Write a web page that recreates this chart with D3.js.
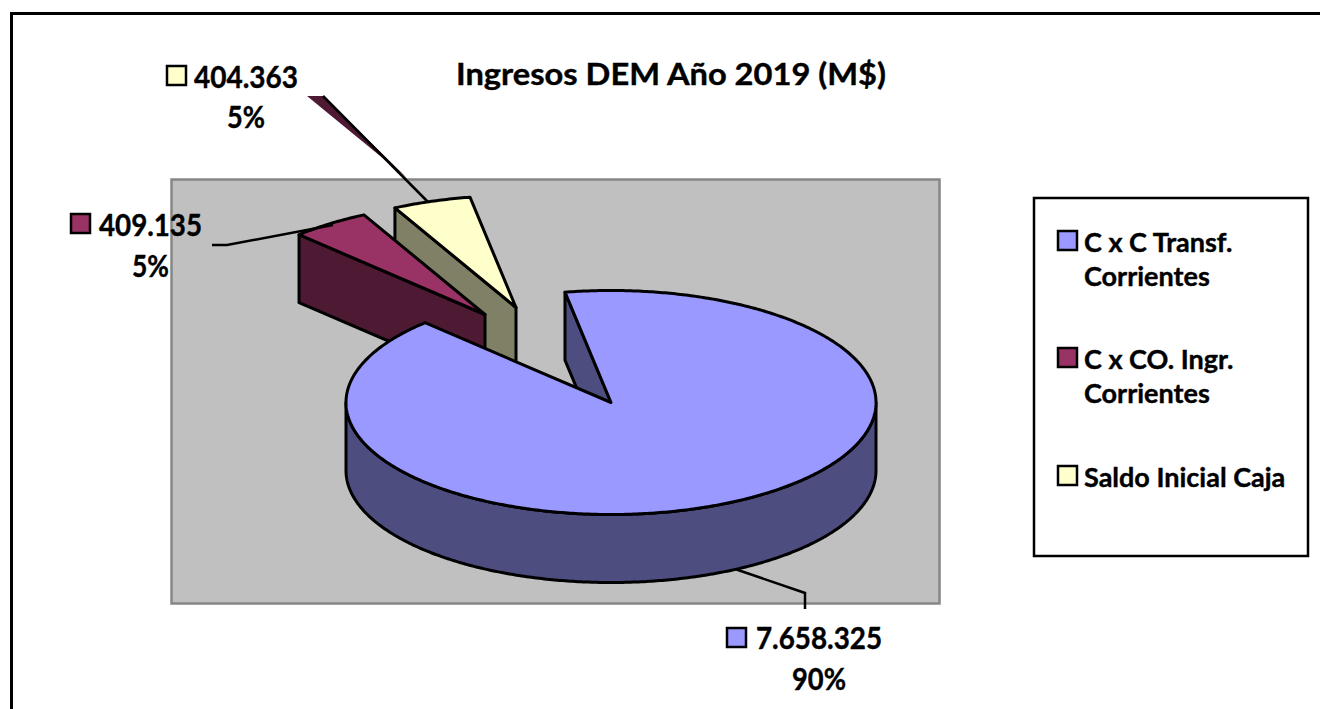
<!DOCTYPE html>
<html>
<head>
<meta charset="utf-8">
<script src="https://cdn.jsdelivr.net/npm/d3@7"></script>
<style>
  html, body { margin: 0; padding: 0; background: #fff; overflow: hidden; }
  text { font-family: Lato, "Open Sans", sans-serif; font-weight: 700; fill: #000; stroke: #000; stroke-width: 0.4px; }
</style>
</head>
<body>
<svg id="chart" width="1320" height="709"></svg>
<script>
const title = "Ingresos DEM Año 2019 (M$)"
const categories = ["C x C Transf. Corrientes", "C x CO. Ingr. Corrientes", "Saldo Inicial Caja"]
const values = [7658325, 409135, 404363]
const legendLines = [["C x C Transf.", "Corrientes"], ["C x CO. Ingr.", "Corrientes"], ["Saldo Inicial Caja"]]

const topColors = ["#9999FF", "#993366", "#FFFFCC"]
const sideColors = ["#4D4D80", "#4D1933", "#808066"]

const svg = d3.select("#chart")

// pie ellipse
const cx = 611, cy = 402.5, rx = 265, ry = 112, depth = 68
const firstAngle = -10 * Math.PI / 180
// how far each slice was dragged out of the pie
const explode = [[0, 0], [-126, -88], [-95, -95]]

// labels: value x centre, value baseline, percent x centre, percent baseline, swatch x, swatch y
const labelPos = [
  {vx: 819, vy: 649, vw: 126, px: 819, py: 690, pw: 54, sx: 727, sy: 628},
  {vx: 150.5, vy: 236, vw: 103, px: 150.5, py: 277, pw: 37, sx: 71, sy: 214},
  {vx: 246, vy: 88, vw: 104, px: 246, py: 128, pw: 38, sx: 167, sy: 66}
]
const legendY = [231, 348, 466]

svg.append("path")
  .attr("d", "M11.5,709V13.5H1320")
  .attr("fill", "none")
  .attr("stroke", "#000")
  .attr("stroke-width", 3)

svg.append("rect")
  .attr("x", 171.5).attr("y", 179.5)
  .attr("width", 768).attr("height", 424)
  .attr("fill", "#C0C0C0")
  .attr("stroke", "#868686")
  .attr("stroke-width", 2.5)

// leader of the yellow slice, drawn in the dark slice colour as in the original
svg.append("path")
  .attr("d", "M307,96H323L407,178Z")
  .attr("fill", "#4D1933")
svg.append("path")
  .attr("d", "M323,96L428,202")
  .attr("fill", "none")
  .attr("stroke", "#000")
  .attr("stroke-width", 2.5)

const pie = d3.pie().sort(null).startAngle(firstAngle).endAngle(firstAngle + 2 * Math.PI)
const slices = pie(values)
const lineGen = d3.line()

const pointAt = (t, ox, oy) => [cx + ox + rx * Math.sin(t), cy + oy - ry * Math.cos(t)]
const arcPoints = (a0, a1, ox, oy) => {
  const n = Math.max(2, Math.ceil(Math.abs(a1 - a0) / 0.01))
  return d3.range(n + 1).map(i => pointAt(a0 + (a1 - a0) * i / n, ox, oy))
}

const lineStyle = sel => sel
  .attr("stroke", "#000")
  .attr("stroke-width", 3)
  .attr("stroke-linejoin", "round")

// back to front: yellow, purple, then the big slice
const drawOrder = [2, 1, 0]
drawOrder.forEach(i => {
  const s = slices[i]
  const [ox, oy] = explode[i]
  const apex = [cx + ox, cy + oy]
  const start = pointAt(s.startAngle, ox, oy)

  // radial wall on the start side
  svg.append("path")
    .attr("d", lineGen([start, apex, [apex[0], apex[1] + depth], [start[0], start[1] + depth]]) + "Z")
    .attr("fill", sideColors[i])
    .call(lineStyle)

  // rim, only the part that faces the viewer
  const a0 = Math.max(s.startAngle, Math.PI / 2)
  const a1 = Math.min(s.endAngle, 3 * Math.PI / 2)
  if (a1 > a0) {
    const upper = arcPoints(a0, a1, ox, oy)
    const lower = upper.map(p => [p[0], p[1] + depth]).reverse()
    svg.append("path")
      .attr("d", lineGen(upper.concat(lower)) + "Z")
      .attr("fill", sideColors[i])
      .call(lineStyle)
  }

  // top face
  svg.append("path")
    .attr("d", lineGen([apex].concat(arcPoints(s.startAngle, s.endAngle, ox, oy))) + "Z")
    .attr("fill", topColors[i])
    .call(lineStyle)
})

// leader lines
svg.append("path")
  .attr("d", "M735,569L805,593V609")
  .attr("fill", "none")
  .attr("stroke", "#000")
  .attr("stroke-width", 2.5)
svg.append("path")
  .attr("d", "M212,245H227L333,225")
  .attr("fill", "none")
  .attr("stroke", "#000")
  .attr("stroke-width", 2.5)

svg.append("text")
  .attr("x", 671).attr("y", 85)
  .attr("text-anchor", "middle")
  .attr("font-size", 31)
  .attr("textLength", 430)
  .attr("lengthAdjust", "spacingAndGlyphs")
  .text(title)

// number format with dots, as in the reference
const esFormat = d3.formatLocale({decimal: ",", thousands: ".", grouping: [3], currency: ["$", ""]}).format(",d")
const pctFormat = d3.format(".0%")
const total = d3.sum(values)

const swatch = (x, y, color) => svg.append("rect")
  .attr("x", x).attr("y", y)
  .attr("width", 19).attr("height", 19)
  .attr("fill", color)
  .attr("stroke", "#000")
  .attr("stroke-width", 2.5)

values.forEach((v, i) => {
  const p = labelPos[i]
  swatch(p.sx, p.sy, topColors[i])
  svg.append("text")
    .attr("x", p.vx).attr("y", p.vy)
    .attr("text-anchor", "middle")
    .attr("font-size", 30)
    .attr("textLength", p.vw)
    .attr("lengthAdjust", "spacingAndGlyphs")
    .text(esFormat(v))
  svg.append("text")
    .attr("x", p.px).attr("y", p.py)
    .attr("text-anchor", "middle")
    .attr("font-size", 30)
    .attr("textLength", p.pw)
    .attr("lengthAdjust", "spacingAndGlyphs")
    .text(pctFormat(v / total))
})

// legend
svg.append("rect")
  .attr("x", 1034).attr("y", 198)
  .attr("width", 274).attr("height", 358)
  .attr("fill", "#fff")
  .attr("stroke", "#000")
  .attr("stroke-width", 2.5)

categories.forEach((c, i) => {
  swatch(1058, legendY[i], topColors[i])
  legendLines[i].forEach((line, j) => {
    svg.append("text")
      .attr("x", 1084)
      .attr("y", legendY[i] + 21 + j * 34)
      .attr("font-size", 27)
      .text(line)
  })
})
</script>
</body>
</html>
